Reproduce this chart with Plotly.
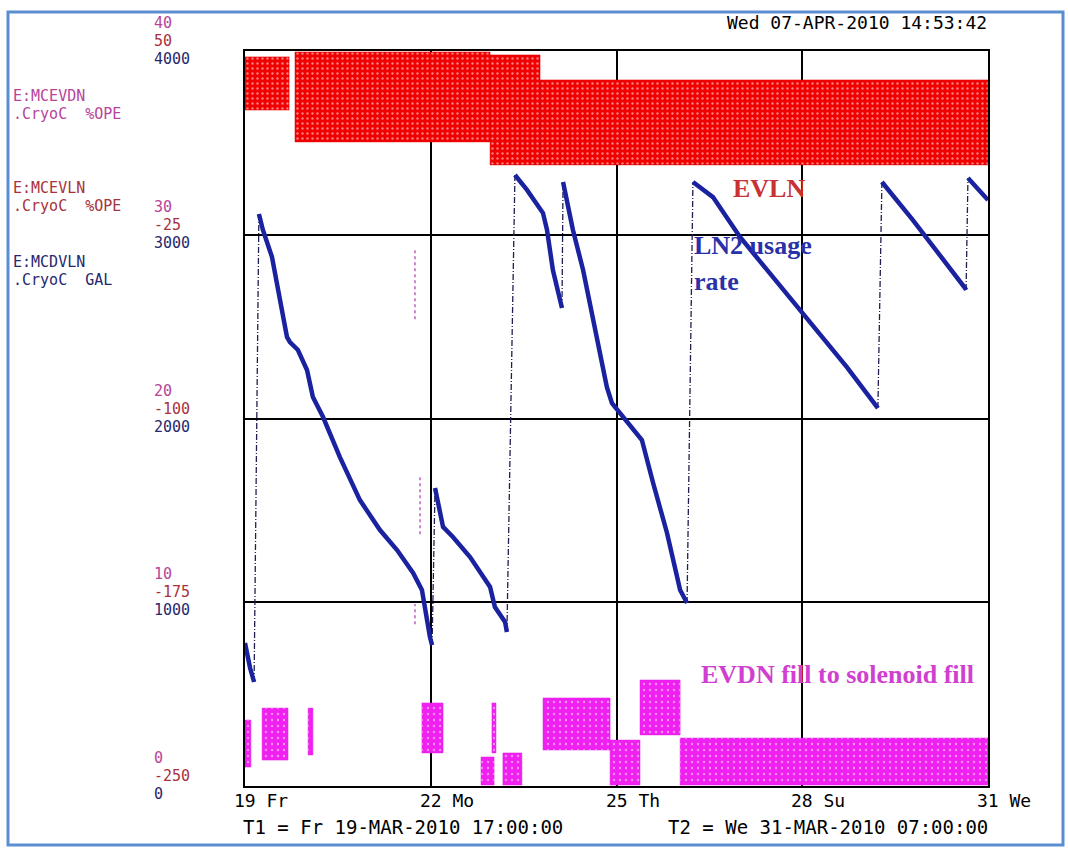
import plotly.graph_objects as go
import pandas as pd

# ---------------- data ----------------
T1 = pd.Timestamp("2010-03-19 17:00:00")
T2 = pd.Timestamp("2010-03-31 07:00:00")

# E:MCDVLN LN2 level (GAL) ; time in hours since T1
ln2_hours = [0.0, 1.9, 3.4, 5.2, 6.7, 10.1, 13.1, 15.7, 16.8, 19.8, 23.2, 25.4, 29.2, 35.5,
             43.0, 50.5, 56.9, 62.9, 66.2, 67.3, 69.2, 70.0,
             71.1, 74.1, 77.8, 84.2, 91.7, 93.5, 97.3, 98.0,
             101.0, 105.5, 111.5, 113.0, 115.2, 117.9, 118.6,
             119.0, 122.7, 126.5, 130.2, 135.4, 137.3, 140.3, 146.7, 148.5, 152.7, 157.9, 162.8, 165.4,
             167.6, 175.1, 185.2, 207.7, 225.2, 236.8,
             238.3, 249.9, 269.4, 269.8,
             270.5, 278.0]
ln2_gal = [778, 642, 566, 3113, 3026, 2879, 2645, 2444, 2416, 2373, 2264, 2117, 2008, 1790,
           1556, 1393, 1284, 1159, 1067, 958, 811, 767,
           1622, 1410, 1355, 1246, 1083, 974, 893, 838,
           3325, 3244, 3118, 3026, 2808, 2645, 2601,
           3287, 3026, 2808, 2536, 2171, 2084, 2030, 1921, 1883, 1649, 1377, 1067, 996,
           3287, 3205, 2988, 2590, 2280, 2057,
           3287, 3080, 2710, 2699,
           3309, 3189]

# E:MCEVLN valve %OPE : dense scatter bands (start h, end h, low, high)
evln_start = [0.0, 18.7, 91.7, 110.4]
evln_end = [16.5, 91.7, 110.4, 278.0]
evln_low = [25.9, 12.9, 3.5, 3.5]
evln_high = [47.6, 49.6, 48.4, 38.2]

# E:MCEVDN valve %OPE : dense scatter bands (start h, end h, low, high)
evdn_start = [0.0, 6.4, 23.6, 66.2, 88.3, 92.4, 96.5, 111.5, 136.6, 147.8, 162.8]
evdn_end = [2.2, 16.1, 25.4, 74.1, 93.2, 93.9, 103.6, 136.6, 147.8, 162.8, 278.0]
evdn_low = [1.03, 1.41, 1.69, 1.80, 0.05, 1.80, 0.05, 1.96, 0.05, 2.78, 0.05]
evdn_high = [3.59, 4.24, 4.24, 4.52, 1.58, 4.52, 1.80, 4.79, 2.50, 5.77, 2.61]

# isolated EVDN spikes (hour, low, high)
spike_hours = [63.6, 65.5, 63.6]
spike_low = [25.4, 13.7, 8.8]
spike_high = [29.2, 16.8, 9.9]

gal_ticks = [0, 1000, 2000, 3000, 4000]
evln_ticks = [-250, -175, -100, -25, 50]
evdn_ticks = [0, 10, 20, 30, 40]
x_ticktext = ["19 Fr", "22 Mo", "25 Th", "28 Su", "31 We"]

# ---------------- helpers ----------------
def t(h):
    return T1 + pd.to_timedelta(h, unit="h")

W, H = 1068, 848
L, R, TOP, BOT = 245, 988, 51, 786
def px(xp):
    return (xp - L) / (R - L)
def py(yp):
    return (BOT - yp) / (BOT - TOP)

NAVY = "#28286e"
RED_T = "#a8323c"
PURP = "#b8449a"
MONO = "DejaVu Sans Mono"
SMALL = 15

fig = go.Figure()

def band_xy(starts, ends, lows, highs):
    xs, ys = [], []
    for s, e, lo, hi in zip(starts, ends, lows, highs):
        xs += [t(s), t(e), t(e), t(s), t(s), None]
        ys += [lo, lo, hi, hi, lo, None]
    return xs, ys

bx, by = band_xy(evln_start, evln_end, evln_low, evln_high)
fig.add_trace(go.Scatter(x=bx, y=by, yaxis="y2", mode="lines", fill="toself",
                         line=dict(width=0.5, color="#e00000"),
                         fillcolor="#ff0000",
                         fillpattern=dict(shape=".", fgcolor="#ffffff", bgcolor="#f00000",
                                          size=5, solidity=0.18),
                         hoverinfo="skip", showlegend=False))

bx, by = band_xy(evdn_start, evdn_end, evdn_low, evdn_high)
fig.add_trace(go.Scatter(x=bx, y=by, yaxis="y3", mode="lines", fill="toself",
                         line=dict(width=0.5, color="#e020e0"),
                         fillcolor="#ff00ff",
                         fillpattern=dict(shape=".", fgcolor="#ffffff", bgcolor="#f020f0",
                                          size=6, solidity=0.12),
                         hoverinfo="skip", showlegend=False))

sx, sy = [], []
for h, lo, hi in zip(spike_hours, spike_low, spike_high):
    sx += [t(h), t(h), None]
    sy += [lo, hi, None]
fig.add_trace(go.Scatter(x=sx, y=sy, yaxis="y3", mode="lines",
                         line=dict(width=1.5, color="#c060c0", dash="dot"),
                         hoverinfo="skip", showlegend=False))

# LN2 level: thick decay segments, thin dashed fill risers
thick_x, thick_y, thin_x, thin_y = [], [], [], []
for i in range(len(ln2_hours)):
    thick_x.append(t(ln2_hours[i]))
    thick_y.append(ln2_gal[i])
    if i + 1 < len(ln2_hours) and ln2_gal[i + 1] > ln2_gal[i] + 200:
        thick_x.append(None)
        thick_y.append(None)
        thin_x += [t(ln2_hours[i]), t(ln2_hours[i + 1]), None]
        thin_y += [ln2_gal[i], ln2_gal[i + 1], None]

fig.add_trace(go.Scatter(x=thin_x, y=thin_y, mode="lines",
                         line=dict(width=1.3, color="#202050", dash="6px,2px,1px,2px"),
                         hoverinfo="skip", showlegend=False))
fig.add_trace(go.Scatter(x=thick_x, y=thick_y, mode="lines",
                         line=dict(width=4.5, color="#1a22a0"),
                         hoverinfo="skip", showlegend=False))

tickvals = [T1 + (T2 - T1) * k / 4 for k in range(5)]

fig.update_layout(
    width=W, height=H,
    margin=dict(l=L, r=W - R, t=TOP, b=H - BOT, pad=0),
    paper_bgcolor="white", plot_bgcolor="white",
    showlegend=False,
    xaxis=dict(type="date", range=[T1, T2], tickvals=tickvals, showticklabels=False,
               showgrid=True, gridcolor="black", gridwidth=1.5,
               showline=True, linecolor="black", linewidth=2, mirror=True,
               ticks="", zeroline=False),
    yaxis=dict(range=[0, 4000], tickvals=gal_ticks, showticklabels=False,
               showgrid=True, gridcolor="black", gridwidth=1.5,
               showline=True, linecolor="black", linewidth=2, mirror=True,
               ticks="", zeroline=False),
    yaxis2=dict(range=[-250, 50], overlaying="y", showgrid=False, showticklabels=False,
                zeroline=False, showline=False, ticks=""),
    yaxis3=dict(range=[0, 40], overlaying="y", showgrid=False, showticklabels=False,
                zeroline=False, showline=False, ticks=""),
)

ann = []
for v in gal_ticks:
    ann.append(dict(x=px(153), xref="paper", y=v, yref="y", yshift=-8, text=str(v),
                    font=dict(family=MONO, size=SMALL, color=NAVY)))
for v in evln_ticks:
    ann.append(dict(x=px(153), xref="paper", y=v, yref="y2", yshift=10, text=str(v),
                    font=dict(family=MONO, size=SMALL, color=RED_T)))
for v in evdn_ticks:
    ann.append(dict(x=px(153), xref="paper", y=v, yref="y3", yshift=28, text=str(v),
                    font=dict(family=MONO, size=SMALL, color=PURP)))

left_labels = [("E:MCEVDN", 96, PURP), (".CryoC  %OPE", 114, PURP),
               ("E:MCEVLN", 188, RED_T), (".CryoC  %OPE", 206, RED_T),
               ("E:MCDVLN", 262, NAVY), (".CryoC  GAL", 280, NAVY)]
for txt, yp, c in left_labels:
    ann.append(dict(x=px(12), xref="paper", y=py(yp), yref="paper", text=txt,
                    font=dict(family=MONO, size=SMALL, color=c)))

for tv, tt in zip(tickvals, x_ticktext):
    ann.append(dict(x=tv, xref="x", y=py(800), yref="paper", xshift=-12, text=tt,
                    font=dict(family=MONO, size=18, color="black")))

ann.append(dict(x=px(988), xref="paper", y=py(22), yref="paper", xanchor="right",
                text="Wed 07-APR-2010 14:53:42", font=dict(family=MONO, size=18, color="black")))
ann.append(dict(x=px(242), xref="paper", y=py(827), yref="paper",
                text="T1 = Fr 19-MAR-2010 17:00:00", font=dict(family=MONO, size=19, color="black")))
ann.append(dict(x=px(989), xref="paper", y=py(827), yref="paper", xanchor="right",
                text="T2 = We 31-MAR-2010 07:00:00", font=dict(family=MONO, size=19, color="black")))

SERIF = "Liberation Serif"
ann.append(dict(x=px(732), xref="paper", y=py(188), yref="paper", text="<b>EVLN</b>",
                font=dict(family=SERIF, size=26, color="#c83232")))
ann.append(dict(x=px(693), xref="paper", y=py(245), yref="paper", text="<b>LN2 usage</b>",
                font=dict(family=SERIF, size=26, color="#2a30a8")))
ann.append(dict(x=px(693), xref="paper", y=py(281), yref="paper", text="<b>rate</b>",
                font=dict(family=SERIF, size=26, color="#2a30a8")))
ann.append(dict(x=px(700), xref="paper", y=py(674), yref="paper",
                text="<b>EVDN fill to solenoid fill</b>",
                font=dict(family=SERIF, size=26, color="#d040d0")))

for a in ann:
    a.setdefault("xanchor", "left")
    a["yanchor"] = "middle"
    a["showarrow"] = False
    a["borderpad"] = 0
fig.update_layout(annotations=ann)

# outer blue frame
fig.add_shape(type="rect", xref="paper", yref="paper",
              x0=px(8), x1=px(1063), y0=py(845), y1=py(12),
              line=dict(color="#5b8dd3", width=3), layer="above")

fig.write_html("out.html", config={"displayModeBar": False},
               post_script="document.body.style.margin='0';document.body.style.overflow='hidden';")
